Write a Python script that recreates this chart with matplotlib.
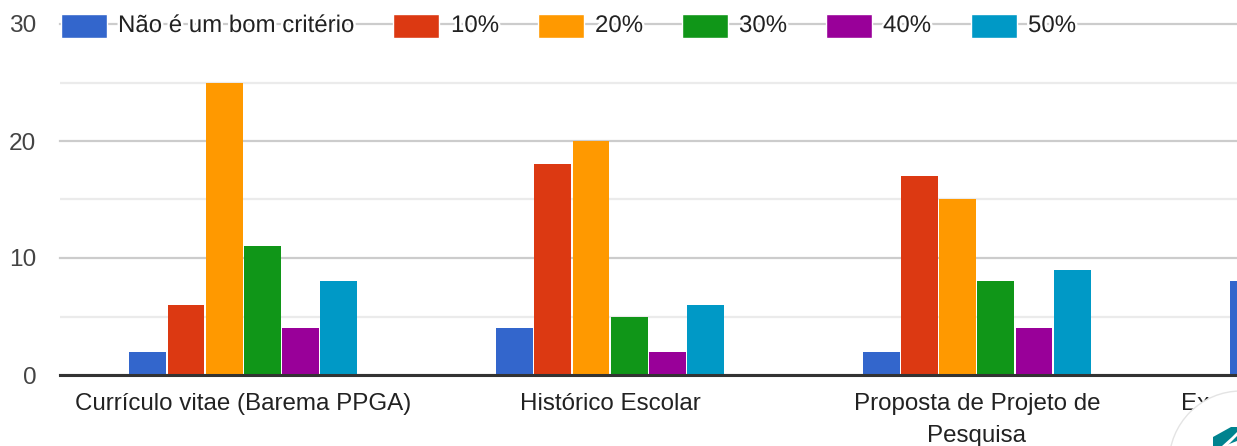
import matplotlib
matplotlib.use('Agg')
import matplotlib.pyplot as plt
import matplotlib.patheffects as pe
from matplotlib.patches import Rectangle, Circle, Polygon

plt.rcParams['font.family'] = ['Liberation Sans', 'DejaVu Sans']

categories = ['Currículo vitae (Barema PPGA)', 'Histórico Escolar',
              'Proposta de Projeto de\nPesquisa']
last_category = 'Ex'
series_names = ['Não é um bom critério', '10%', '20%', '30%', '40%', '50%']
nao_criterio = [2, 4, 2, 8]
p10 = [6, 18, 17]
p20 = [25, 20, 15]
p30 = [11, 5, 8]
p40 = [4, 2, 4]
p50 = [8, 6, 9]
series = [nao_criterio, p10, p20, p30, p40, p50]
colors = ['#3366cc', '#dc3912', '#ff9900', '#109618', '#990099', '#0099c6']
major_ticks = [0, 10, 20, 30]
minor_ticks = [5, 15, 25]

W, H = 1237, 446
fig = plt.figure(figsize=(W / 100, H / 100), dpi=100)
ax = fig.add_axes([60 / W, 1 - 375 / H, (W - 60) / W, (375 - 24) / H])
ax.set_xlim(-0.5, (W - 60) / 366.7 - 0.5)
ax.set_ylim(0, 30)

# barres, 6 par groupe
step = 38.2 / 366.7
width = 36.8 / 366.7
for i, vals in enumerate(series):
    xs = [k + (i - 2.5) * step for k in range(len(vals))]
    ax.bar(xs, vals, width=width, color=colors[i], zorder=3)

ax.set_yticks(major_ticks)
ax.set_yticks(minor_ticks, minor=True)
ax.grid(axis='y', which='major', color='#cccccc', lw=1.6, zorder=1)
ax.grid(axis='y', which='minor', color='#ebebeb', lw=1.6, zorder=1)
ax.set_axisbelow(True)
for line in ax.get_ygridlines():
    line.set_clip_on(False)
for s in ['top', 'right', 'left']:
    ax.spines[s].set_visible(False)
ax.spines['bottom'].set_color('#333333')
ax.spines['bottom'].set_linewidth(2.2)
ax.spines['bottom'].set_zorder(5)
ax.tick_params(axis='y', which='both', length=0, pad=17, labelsize=17.6, labelcolor='#444444')
ax.tick_params(axis='x', length=0)
ax.set_xticks([])


def fx(px):
    return px / W


def fy(py):
    return 1 - py / H


# étiquettes de catégories
for k, c in enumerate(categories):
    fig.text(fx(243.5 + 366.7 * k), fy(393), c, ha='center', va='top', fontsize=17.4,
             color='#222222', linespacing=1.6)
fig.text(fx(1181), fy(393), last_category, ha='left', va='top', fontsize=17.4, color='#222222')

# légende à la main, la grille passe entre les entrées et les mots
halo = [pe.withStroke(linewidth=3.5, foreground='white')]
rect_x = [60.5, 392.5, 537.5, 681.5, 825.5, 970.5]
text_x = [118, 451, 595, 739, 883, 1028]
for name, col, rx, tx in zip(series_names, colors, rect_x, text_x):
    fig.patches.append(Rectangle((fx(rx), fy(37.5)), 46 / W, 23 / H, transform=fig.transFigure,
                                 facecolor=col, edgecolor='white', lw=1, zorder=4))
    fig.text(fx(tx), fy(26), name, ha='left', va='center', fontsize=17.3, color='#222222',
             zorder=5, path_effects=halo)

# bouton rond en bas à droite
bouton = Circle((1241, H - 463), 72, transform=None, facecolor='white', edgecolor='#e4e4e4',
                lw=1, zorder=6)
fig.patches.append(bouton)
crayon = Polygon([(1213, 0), (1213, 9), (1231, H - 427), (1237, H - 427), (1237, 5), (1224, 0)],
                 closed=True, transform=None, facecolor='#00838f', edgecolor='none', zorder=7)
fig.patches.append(crayon)
fente = Polygon([(1222, 0), (1232, 9), (1237, 14), (1237, 10), (1227, 0)], closed=True,
                transform=None, facecolor='white', edgecolor='none', zorder=8)
fig.patches.append(fente)

plt.savefig('out.png', dpi=100)
